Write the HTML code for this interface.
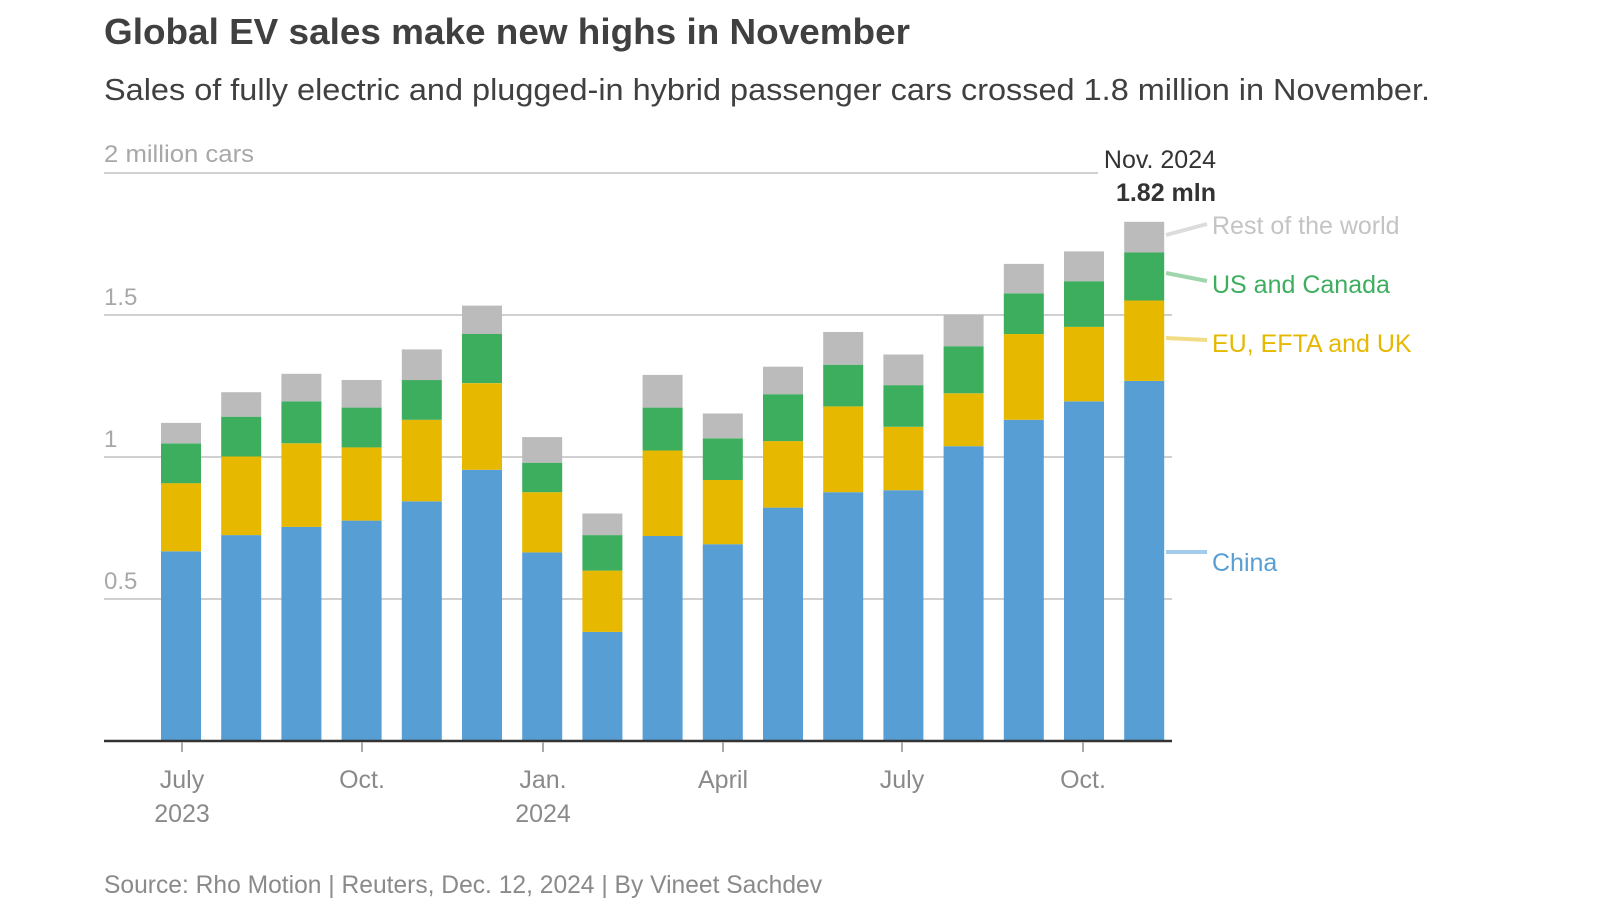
<!DOCTYPE html>
<html><head><meta charset="utf-8"><style>
html,body{margin:0;padding:0;background:#fff;}
svg{display:block;font-family:"Liberation Sans","DejaVu Sans",sans-serif;}
</style></head><body>
<svg width="1600" height="900" viewBox="0 0 1600 900" xmlns="http://www.w3.org/2000/svg">
<text x="104" y="44" font-size="36" font-weight="bold" fill="#404040" textLength="806" lengthAdjust="spacingAndGlyphs">Global EV sales make new highs in November</text>
<text x="104" y="100" font-size="31" fill="#404040" textLength="1326" lengthAdjust="spacingAndGlyphs">Sales of fully electric and plugged-in hybrid passenger cars crossed 1.8 million in November.</text>
<g stroke="#d0d0d0" stroke-width="2">
<line x1="104" y1="173" x2="1172" y2="173"/>
<line x1="104" y1="315" x2="1172" y2="315"/>
<line x1="104" y1="457" x2="1172" y2="457"/>
<line x1="104" y1="599" x2="1172" y2="599"/>
</g>
<g font-size="24" fill="#a8a8a8">
<text x="104" y="162" textLength="150" lengthAdjust="spacingAndGlyphs">2 million cars</text>
<text x="104" y="305">1.5</text>
<text x="104" y="447">1</text>
<text x="104" y="589">0.5</text>
</g>
<rect x="1098" y="140" width="122" height="40" fill="#fff"/>
<g id="bars"></g>
<line x1="104" y1="741" x2="1172" y2="741" stroke="#333" stroke-width="2.5"/>
<g stroke="#aaa" stroke-width="2">
<line x1="182" y1="742" x2="182" y2="752"/><line x1="362" y1="742" x2="362" y2="752"/>
<line x1="543" y1="742" x2="543" y2="752"/><line x1="723" y1="742" x2="723" y2="752"/>
<line x1="902" y1="742" x2="902" y2="752"/><line x1="1083" y1="742" x2="1083" y2="752"/>
</g>
<g font-size="25" fill="#8a8a8a" text-anchor="middle">
<text x="182" y="788">July</text><text x="182" y="822">2023</text>
<text x="362" y="788">Oct.</text>
<text x="543" y="788">Jan.</text><text x="543" y="822">2024</text>
<text x="723" y="788">April</text>
<text x="902" y="788">July</text>
<text x="1083" y="788">Oct.</text>
</g>
<text x="1216" y="168" font-size="25" fill="#333" text-anchor="end">Nov. 2024</text>
<text x="1216" y="201" font-size="25" font-weight="bold" fill="#333" text-anchor="end">1.82 mln</text>
<g stroke-width="4">
<line x1="1166" y1="235" x2="1207" y2="224" stroke="#dcdcdc"/>
<line x1="1166" y1="273" x2="1207" y2="281" stroke="#9fd6ae"/>
<line x1="1166" y1="338" x2="1207" y2="340" stroke="#f2dc85"/>
<line x1="1166" y1="552" x2="1207" y2="552" stroke="#a3cbea"/>
</g>
<g font-size="25">
<text x="1212" y="234" fill="#c4c4c4">Rest of the world</text>
<text x="1212" y="293" fill="#3dae5e">US and Canada</text>
<text x="1212" y="352" fill="#e6b800">EU, EFTA and UK</text>
<text x="1212" y="571" fill="#579ed4">China</text>
</g>
<text x="104" y="893" font-size="25" fill="#8a8a8a" textLength="718" lengthAdjust="spacingAndGlyphs">Source: Rho Motion | Reuters, Dec. 12, 2024 | By Vineet Sachdev</text>
</svg>
<script>
var d=[[.668,.908,1.048,1.12],[.725,1.002,1.142,1.228],[.754,1.048,1.196,1.293],[.776,1.034,1.174,1.271],[.844,1.131,1.271,1.379],[.955,1.26,1.433,1.533],[.664,.876,.98,1.07],[.384,.6,.725,.801],[.722,1.023,1.174,1.289],[.693,.919,1.066,1.153],[.822,1.056,1.221,1.318],[.876,1.178,1.325,1.44],[.883,1.106,1.253,1.361],[1.038,1.224,1.39,1.501],[1.131,1.433,1.576,1.68],[1.196,1.458,1.619,1.724],[1.268,1.551,1.72,1.828]];
var c=["#579ed4","#e6b800","#3dae5e","#bbbbbb"],g=document.getElementById("bars"),s="";
function y(v){return 741-v*284;}
d.forEach(function(r,i){var x=161+i*60.2,p=0;r.forEach(function(v,k){s+='<rect x="'+x.toFixed(1)+'" y="'+y(v).toFixed(1)+'" width="40" height="'+(y(p)-y(v)).toFixed(1)+'" fill="'+c[k]+'"/>';p=v;});});
g.innerHTML=s;
</script>
</body></html>
